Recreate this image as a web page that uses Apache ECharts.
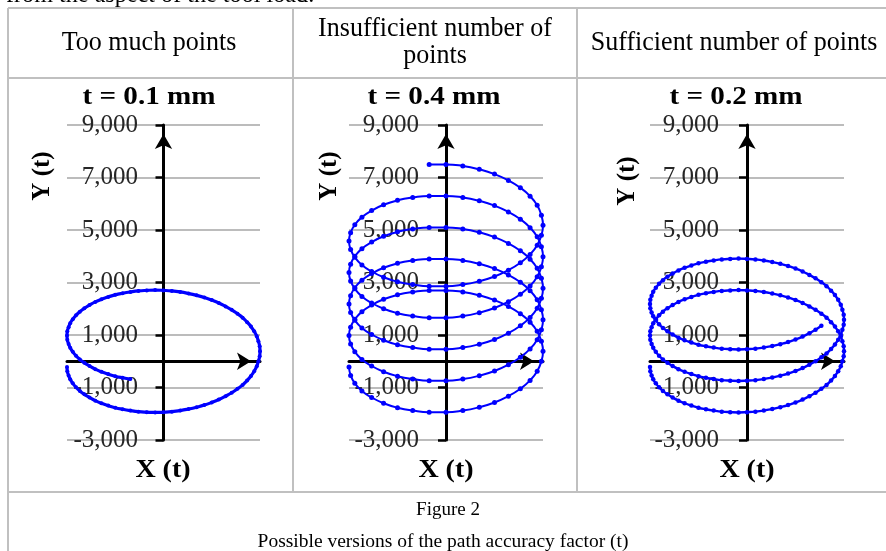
<!DOCTYPE html>
<html>
<head>
<meta charset="utf-8">
<script src="https://cdn.jsdelivr.net/npm/echarts@6/dist/echarts.min.js"></script>
<style>
html,body{margin:0;padding:0;background:#fff;}
#chart{width:886px;height:551px;}
</style>
</head>
<body>
<div id="chart"></div>
<script>
// Tool path points (X, Y) for each path accuracy factor t
const t01X = [-3000,-2990,-2950,-2900,-2820,-2720,-2600,-2460,-2300,-2120,-1930,-1720,-1500,-1270,-1030,-780,-520,-260,0,260,520,780,1030,1270,1500,1720,1930,2120,2300,2460,2600,2720,2820,2900,2950,2990,3000,2990,2950,2900,2820,2720,2600,2460,2300,2120,1930,1720,1500,1270,1030,780,520,260,0,-260,-520,-780,-1030,-1270,-1500,-1720,-1930,-2120,-2300,-2460,-2600,-2720,-2820,-2900,-2950,-2990,
  -3000,-2990,-2950,-2900,-2820,-2720,-2600,-2460,-2300,-2120,-1930,-1720,-1500,-1270,-1030];
const t01Y = [-220,-380,-540,-690,-840,-990,-1130,-1260,-1380,-1500,-1600,-1690,-1770,-1830,-1880,-1920,-1940,-1950,-1940,-1920,-1880,-1820,-1750,-1670,-1570,-1460,-1330,-1200,-1050,-900,-730,-560,-380,-190,0,190,380,570,760,950,1140,1320,1490,1660,1810,1960,2090,2220,2330,2430,2510,2580,2640,2680,2700,2710,2700,2680,2640,2590,2530,2450,2360,2260,2140,2020,1890,1750,1600,1450,1300,1140,
  980,820,660,510,360,210,70,-60,-180,-300,-400,-490,-570,-630,-680];

const t04X = [-3000,-2950,-2820,-2600,-2300,-1930,-1500,-1030,-520,0,520,1030,1500,1930,2300,2600,2820,2950,3000,2950,2820,2600,2300,1930,1500,1030,520,0,-520,-1030,-1500,-1930,-2300,-2600,-2820,-2950,
  -3000,-2950,-2820,-2600,-2300,-1930,-1500,-1030,-520,0,520,1030,1500,1930,2300,2600,2820,2950,3000,2950,2820,2600,2300,1930,1500,1030,520,0,-520,-1030,-1500,-1930,-2300,-2600,-2820,-2950,
  -3000,-2950,-2820,-2600,-2300,-1930,-1500,-1030,-520,0,520,1030,1500,1930,2300,2600,2820,2950,3000,2950,2820,2600,2300,1930,1500,1030,520,0,-520,-1030,-1500,-1930,-2300,-2600,-2820,-2950,
  -3000,-2950,-2820,-2600,-2300,-1930,-1500,-1030,-520,0,520,1030,1500,1930,2300,2600,2820,2950,3000,2950,2820,2600,2300,1930,1500,1030,520,0,-520,-1030,-1500,-1930,-2300,-2600,-2820,-2950,
  -3000,-2950,-2820,-2600,-2300,-1930,-1500,-1030,-520,0,520,1030,1500,1930,2300,2600,2820,2950,3000,2950,2820,2600,2300,1930,1500,1030,520,0,-520];
const t04Y = [-220,-540,-840,-1130,-1380,-1600,-1770,-1880,-1940,-1940,-1880,-1750,-1570,-1330,-1050,-730,-380,0,380,760,1140,1490,1810,2090,2330,2510,2640,2700,2700,2640,2530,2360,2140,1890,1600,1300,
  980,660,360,70,-180,-400,-570,-680,-740,-740,-680,-550,-370,-130,150,470,820,1200,1580,1960,2340,2690,3010,3290,3530,3710,3840,3900,3900,3840,3730,3560,3340,3090,2800,2500,
  2180,1860,1560,1270,1020,800,630,520,460,460,520,650,830,1070,1350,1670,2020,2400,2780,3160,3540,3890,4210,4490,4730,4910,5040,5100,5100,5040,4930,4760,4540,4290,4000,3700,
  3380,3060,2760,2470,2220,2000,1830,1720,1660,1660,1720,1850,2030,2270,2550,2870,3220,3600,3980,4360,4740,5090,5410,5690,5930,6110,6240,6300,6300,6240,6130,5960,5740,5490,5200,4900,
  4580,4260,3960,3670,3420,3200,3030,2920,2860,2860,2920,3050,3230,3470,3750,4070,4420,4800,5180,5560,5940,6290,6610,6890,7130,7310,7440,7500,7500];

const t02X = [-3000,-2990,-2950,-2900,-2820,-2720,-2600,-2460,-2300,-2120,-1930,-1720,-1500,-1270,-1030,-780,-520,-260,0,260,520,780,1030,1270,1500,1720,1930,2120,2300,2460,2600,2720,2820,2900,2950,2990,3000,2990,2950,2900,2820,2720,2600,2460,2300,2120,1930,1720,1500,1270,1030,780,520,260,0,-260,-520,-780,-1030,-1270,-1500,-1720,-1930,-2120,-2300,-2460,-2600,-2720,-2820,-2900,-2950,-2990,
  -3000,-2990,-2950,-2900,-2820,-2720,-2600,-2460,-2300,-2120,-1930,-1720,-1500,-1270,-1030,-780,-520,-260,0,260,520,780,1030,1270,1500,1720,1930,2120,2300,2460,2600,2720,2820,2900,2950,2990,3000,2990,2950,2900,2820,2720,2600,2460,2300,2120,1930,1720,1500,1270,1030,780,520,260,0,-260,-520,-780,-1030,-1270,-1500,-1720,-1930,-2120,-2300,-2460,-2600,-2720,-2820,-2900,-2950,-2990,
  -3000,-2990,-2950,-2900,-2820,-2720,-2600,-2460,-2300,-2120,-1930,-1720,-1500,-1270,-1030,-780,-520,-260,0,260,520,780,1030,1270,1500,1720,1930,2120,2300];
const t02Y = [-220,-380,-540,-690,-840,-990,-1130,-1260,-1380,-1500,-1600,-1690,-1770,-1830,-1880,-1920,-1940,-1950,-1940,-1920,-1880,-1820,-1750,-1670,-1570,-1460,-1330,-1200,-1050,-900,-730,-560,-380,-190,0,190,380,570,760,950,1140,1320,1490,1660,1810,1960,2090,2220,2330,2430,2510,2580,2640,2680,2700,2710,2700,2680,2640,2590,2530,2450,2360,2260,2140,2020,1890,1750,1600,1450,1300,1140,
  980,820,660,510,360,210,70,-60,-180,-300,-400,-490,-570,-630,-680,-720,-740,-750,-740,-720,-680,-620,-550,-470,-370,-260,-130,0,150,300,470,640,820,1010,1200,1390,1580,1770,1960,2150,2340,2520,2690,2860,3010,3160,3290,3420,3530,3630,3710,3780,3840,3880,3900,3910,3900,3880,3840,3790,3730,3650,3560,3460,3340,3220,3090,2950,2800,2650,2500,2340,
  2180,2020,1860,1710,1560,1410,1270,1140,1020,900,800,710,630,570,520,480,460,450,460,480,520,580,650,730,830,940,1070,1200,1350];

// Column headings, panel titles and axis ranges
const headings = ['Too much points', 'Insufficient number of\npoints', 'Sufficient number of points'];
const panelTitles = ['t = 0.1 mm', 't = 0.4 mm', 't = 0.2 mm'];
const xRange = [-3000, 3000];
const yRange = [-3000, 9000];
const yStep = 2000;

const FONT = '"Times New Roman","Liberation Serif",serif';
const BLUE = '#0000ff';

const panels = [
  { xs: t01X, ys: t01Y, lineWidth: 3.2, symbolSize: 4 },
  { xs: t04X, ys: t04Y, lineWidth: 2, symbolSize: 5 },
  { xs: t02X, ys: t02Y, lineWidth: 2.4, symbolSize: 4.5 }
];

const grids = [
  { left: 67, top: 125, width: 193, height: 315, outerBoundsMode: 'none', containLabel: false },
  { left: 349, top: 125, width: 194, height: 315, outerBoundsMode: 'none', containLabel: false },
  { left: 650, top: 125, width: 194, height: 315, outerBoundsMode: 'none', containLabel: false }
];
// tick labels sit inside the plot, just left of the vertical axis through x = 0
const labelRight = [138, 419, 719];

const axisLineStyle = { color: '#000', width: 3 };

function txt(text, x, y, font, opts) {
  opts = opts || {};
  return {
    type: 'text', x: x, y: y, rotation: opts.rotation || 0,
    scaleX: opts.scaleX || 1, scaleY: 1, z: 10,
    style: {
      text: text, font: font, fill: opts.fill || '#000',
      textAlign: opts.align || 'center', align: opts.align || 'center',
      textVerticalAlign: opts.valign || 'middle', verticalAlign: opts.valign || 'middle',
      lineHeight: opts.lineHeight
    }
  };
}
function hline(x1, x2, y) {
  return { type: 'line', z: 1, shape: { x1: x1, y1: y, x2: x2, y2: y }, style: { stroke: '#c0c0c0', lineWidth: 2 } };
}
function vline(x, y1, y2) {
  return { type: 'line', z: 1, shape: { x1: x, y1: y1, x2: x, y2: y2 }, style: { stroke: '#c0c0c0', lineWidth: 2 } };
}

const graphics = [
  // table frame
  hline(8, 886, 8), hline(8, 886, 78), hline(8, 886, 492),
  vline(8, 8, 551), vline(293, 8, 492), vline(577, 8, 492),
  // text above the table
  txt('from the aspect of the tool load.', 6, 8, '26px ' + FONT, { align: 'left', valign: 'bottom', scaleX: 0.93 }),
  // headings
  txt(headings[0], 149, 43, '28px ' + FONT, { scaleX: 0.93 }),
  txt(headings[1], 435, 42, '28px ' + FONT, { scaleX: 0.93, lineHeight: 27 }),
  txt(headings[2], 734, 43, '28px ' + FONT, { scaleX: 0.93 }),
  // caption
  txt('Figure 2', 448, 510, '19px ' + FONT),
  txt('Possible versions of the path accuracy factor (t)', 443, 542, '19.5px ' + FONT)
];

const titleX = [149, 434, 736];
const axisNameY = [[43, 176], [330, 176], [628, 181]];
const axisNameXx = [163, 446, 747];
for (let i = 0; i < 3; i++) {
  graphics.push(txt(panelTitles[i], titleX[i], 97, 'bold 26px ' + FONT, { scaleX: 1.12 }));
  graphics.push(txt('Y (t)', axisNameY[i][0], axisNameY[i][1], 'bold 25px ' + FONT, { rotation: Math.PI / 2 }));
  graphics.push(txt('X (t)', axisNameXx[i], 471, 'bold 25px ' + FONT, { scaleX: 1.12 }));
}

const option = {
  animation: false,
  backgroundColor: '#fff',
  grid: grids,
  xAxis: grids.map((g, i) => ({
    gridIndex: i, type: 'value', min: xRange[0], max: xRange[1],
    axisLine: { onZero: true, lineStyle: axisLineStyle, symbol: ['none', 'arrow'], symbolSize: [13, 14], symbolOffset: [0, -9] },
    axisTick: { show: false }, axisLabel: { show: false }, splitLine: { show: false }
  })),
  yAxis: grids.map((g, i) => ({
    gridIndex: i, type: 'value', min: yRange[0], max: yRange[1], interval: yStep,
    axisLine: { onZero: true, lineStyle: axisLineStyle, symbol: ['none', 'arrow'], symbolSize: [13, 15], symbolOffset: [0, -9] },
    axisTick: { show: true, length: 8, lineStyle: { color: '#000', width: 2.5 } },
    axisLabel: {
      margin: g.left - labelRight[i], fontSize: 25, fontFamily: FONT, color: '#262626',
      formatter: v => v.toLocaleString('en-US')
    },
    splitLine: { show: true, lineStyle: { color: '#a6a6a6', width: 1.5 } }
  })),
  series: panels.map((p, i) => ({
    type: 'line', xAxisIndex: i, yAxisIndex: i,
    data: p.xs.map((x, k) => [x, p.ys[k]]),
    smooth: true, symbol: 'circle', symbolSize: p.symbolSize,
    showSymbol: true, showAllSymbol: true, clip: false, z: 3,
    lineStyle: { color: BLUE, width: p.lineWidth },
    itemStyle: { color: BLUE }
  })),
  graphic: graphics
};

const chart = echarts.init(document.getElementById('chart'), null, { renderer: 'canvas' });
chart.setOption(option);
</script>
</body>
</html>
